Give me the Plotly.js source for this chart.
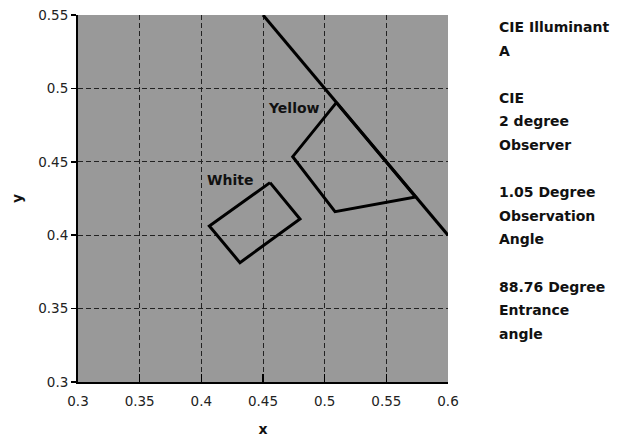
<!DOCTYPE html>
<html>
<head>
<meta charset="utf-8">
<script src="https://cdn.plot.ly/plotly-3.0.1.min.js"></script>
<style>html,body{margin:0;padding:0;background:#fff;}#chart{width:629px;height:438px;}</style>
</head>
<body>
<div id="chart"></div>
<script>
// Spectral locus segment
const locusX = [0.45, 0.6];
const locusY = [0.55, 0.4];
// Yellow chromaticity region
const yellowX = [0.5095, 0.4741, 0.5084, 0.5738, 0.5095];
const yellowY = [0.4903, 0.4535, 0.4160, 0.4260, 0.4903];
// White chromaticity region
const whiteX = [0.4557, 0.4800, 0.4313, 0.4065, 0.4557];
const whiteY = [0.4358, 0.4110, 0.3813, 0.4063, 0.4358];
// Labels
const labelText = ["Yellow", "White"];
const labelX = [0.4755, 0.4234];
const labelY = [0.4865, 0.4375];
// Tick values
const xTicks = [0.3, 0.35, 0.4, 0.45, 0.5, 0.55, 0.6];
const yTicks = [0.3, 0.35, 0.4, 0.45, 0.5, 0.55];
// Side notes
const noteLines = ["CIE Illuminant", "A", "", "CIE", "2 degree", "Observer", "", "1.05 Degree", "Observation", "Angle", "", "88.76 Degree", "Entrance", "angle"];

const FONT = "DejaVu Sans, Verdana, sans-serif";
const lineStyle = {color: "#000", width: 3};

const traces = [
  {x: locusX, y: locusY, mode: "lines", line: lineStyle, hoverinfo: "skip"},
  {x: yellowX, y: yellowY, mode: "lines", line: lineStyle, hoverinfo: "skip"},
  {x: whiteX, y: whiteY, mode: "lines", line: lineStyle, hoverinfo: "skip"}
];

const annotations = [];
labelText.forEach((t, i) => {
  annotations.push({x: labelX[i], y: labelY[i], xref: "x", yref: "y", text: "<b>" + t + "</b>",
    showarrow: false, font: {family: FONT, size: 14, color: "#111"}});
});
const plotTop = 15, plotH = 367, step = 23.6, firstY = 27;
noteLines.forEach((t, i) => {
  if (!t) return;
  const ypx = firstY + i * step;
  annotations.push({x: (497 - 78) / 370, y: (plotTop + plotH - ypx) / plotH, xref: "paper", yref: "paper",
    xanchor: "left", yanchor: "middle", text: "<b>" + t + "</b>", showarrow: false,
    font: {family: FONT, size: 14, color: "#111"}});
});

const layout = {
  width: 629, height: 438,
  margin: {l: 78, r: 181, t: 15, b: 56},
  paper_bgcolor: "#fff",
  plot_bgcolor: "#999999",
  showlegend: false,
  font: {family: FONT, size: 13.5, color: "#222"},
  xaxis: {
    range: [0.3, 0.6], tickvals: xTicks, ticktext: xTicks.map(String),
    showgrid: true, gridcolor: "#222", gridwidth: 1, griddash: "5px,3px",
    showline: true, linecolor: "#000", linewidth: 2,
    ticks: "inside", ticklen: 8, tickwidth: 1.5, tickcolor: "#000",
    ticklabelstandoff: 6,
    zeroline: false, fixedrange: true,
    title: {text: "<b>x</b>", font: {family: FONT, size: 14, color: "#111"}, standoff: 16}
  },
  yaxis: {
    range: [0.3, 0.55], tickvals: yTicks, ticktext: yTicks.map(String),
    showgrid: true, gridcolor: "#222", gridwidth: 1, griddash: "5px,3px",
    showline: true, linecolor: "#000", linewidth: 2,
    ticks: "outside", ticklen: 5, tickwidth: 1.5, tickcolor: "#000",
    zeroline: false, fixedrange: true,
    title: {text: "<b>y</b>", font: {family: FONT, size: 14, color: "#111"}, standoff: 12}
  },
  annotations: annotations
};

Plotly.newPlot("chart", traces, layout, {displayModeBar: false, staticPlot: true});
</script>
</body>
</html>
